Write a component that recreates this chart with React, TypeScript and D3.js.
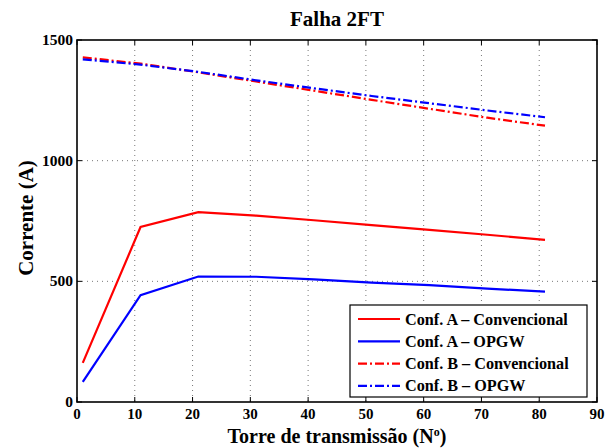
import React from "react";
import * as d3 from "d3";

const torres = [1, 11, 21, 31, 41, 51, 61, 71, 81];
const confAConv = [162, 725, 787, 772, 753, 733, 713, 693, 672];
const confAOpgw = [83, 443, 520, 519, 508, 495, 484, 470, 457];
const confBConv = [1428, 1402, 1366, 1328, 1290, 1252, 1215, 1178, 1145];
const confBOpgw = [1420, 1398, 1368, 1333, 1300, 1268, 1238, 1208, 1180];
const xTicks = [0, 10, 20, 30, 40, 50, 60, 70, 80, 90];
const yTicks = [0, 500, 1000, 1500];

const series = [
  { name: "Conf. A \u2013 Convencional", values: confAConv, color: "#ff0000", dash: "" },
  { name: "Conf. A \u2013 OPGW", values: confAOpgw, color: "#0000ff", dash: "" },
  { name: "Conf. B \u2013 Convencional", values: confBConv, color: "#ff0000", dash: "9,3,2,3" },
  { name: "Conf. B \u2013 OPGW", values: confBOpgw, color: "#0000ff", dash: "9,3,2,3" },
];

const W = 612;
const H = 448;
const m = { left: 77, right: 597, top: 40, bottom: 402 };
const font = "'Liberation Serif', 'Times New Roman', serif";

export default function App() {
  const x = d3.scaleLinear().domain([0, 90]).range([m.left, m.right]);
  const y = d3.scaleLinear().domain([0, 1500]).range([m.bottom, m.top]);
  const line = d3
    .line<[number, number]>()
    .x((d) => x(d[0]))
    .y((d) => y(d[1]));

  const leg = { x: 350, y: 305, w: 237, h: 92 };

  return (
    <svg
      width={W}
      height={H}
      style={{ position: "absolute", left: 0, top: 0, background: "#fff" }}
      fontFamily={font}
      fontWeight="bold"
    >
      <rect x={0} y={0} width={W} height={H} fill="#fff" />
      {/* grid */}
      {xTicks.slice(1, -1).map((t) => (
        <line key={"gx" + t} x1={x(t)} x2={x(t)} y1={m.top} y2={m.bottom}
          stroke="#555" strokeWidth={0.8} strokeDasharray="1,4" />
      ))}
      {yTicks.slice(1, -1).map((t) => (
        <line key={"gy" + t} x1={m.left} x2={m.right} y1={y(t)} y2={y(t)}
          stroke="#555" strokeWidth={0.8} strokeDasharray="1,4" />
      ))}
      {/* ticks */}
      {xTicks.map((t) => (
        <g key={"tx" + t}>
          <line x1={x(t)} x2={x(t)} y1={m.bottom} y2={m.bottom - 5} stroke="#000" />
          <line x1={x(t)} x2={x(t)} y1={m.top} y2={m.top + 5} stroke="#000" />
          <text x={x(t)} y={m.bottom + 17} textAnchor="middle" fontSize={15}>{t}</text>
        </g>
      ))}
      {yTicks.map((t) => (
        <g key={"ty" + t}>
          <line x1={m.left} x2={m.left + 5} y1={y(t)} y2={y(t)} stroke="#000" />
          <line x1={m.right} x2={m.right - 5} y1={y(t)} y2={y(t)} stroke="#000" />
          <text x={m.left - 4} y={y(t) + 5} textAnchor="end" fontSize={15.5}>{t}</text>
        </g>
      ))}
      {/* lines */}
      {series.map((s) => (
        <path key={s.name}
          d={line(torres.map((t, i) => [t, s.values[i]] as [number, number])) || ""}
          fill="none" stroke={s.color} strokeWidth={2.2} strokeDasharray={s.dash} />
      ))}
      <rect x={m.left} y={m.top} width={m.right - m.left} height={m.bottom - m.top}
        fill="none" stroke="#000" strokeWidth={1.6} />
      {/* legend */}
      <rect x={leg.x} y={leg.y} width={leg.w} height={leg.h} fill="#fff" stroke="#000" strokeWidth={1.2} />
      {series.map((s, i) => {
        const ly = leg.y + 14 + i * 22.3;
        return (
          <g key={"l" + s.name}>
            <line x1={leg.x + 8} x2={leg.x + 50} y1={ly} y2={ly}
              stroke={s.color} strokeWidth={2.2} strokeDasharray={s.dash} />
            <text x={leg.x + 55} y={ly + 5.5} fontSize={16.2}>{s.name}</text>
          </g>
        );
      })}
      {/* titles */}
      <text x={(m.left + m.right) / 2} y={26} textAnchor="middle" fontSize={21}>Falha 2FT</text>
      <text x={(m.left + m.right) / 2} y={443} textAnchor="middle" fontSize={20}>
        Torre de transmissão (N<tspan dy={-7} fontSize={12}>o</tspan><tspan dy={7}>)</tspan>
      </text>
      <text transform={`translate(33, ${(m.top + m.bottom) / 2 - 3}) rotate(-90)`}
        textAnchor="middle" fontSize={21}>Corrente (A)</text>
    </svg>
  );
}
